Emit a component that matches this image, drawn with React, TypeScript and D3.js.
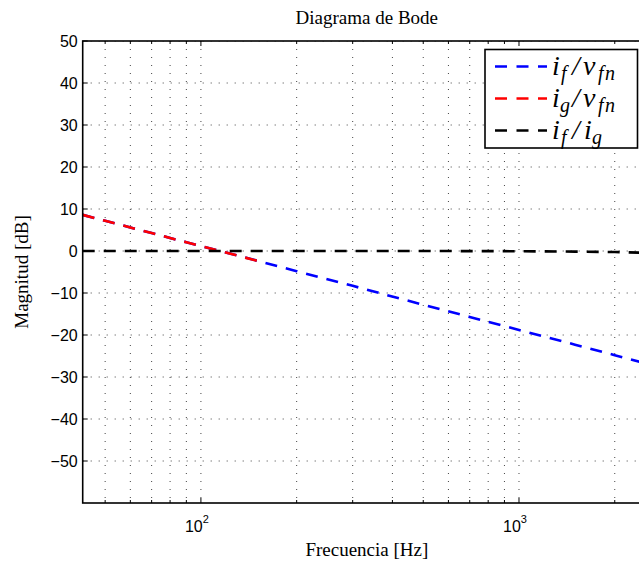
import { useEffect } from "react";
import * as d3 from "d3";

// values (Hz, dB)
const freqIfVfn = [42.5, 50, 60, 70, 80, 90, 100, 150, 200, 300, 500, 700, 1000, 1500, 2000, 2600];
const magIfVfn = [8.6, 7.2, 5.6, 4.3, 3.1, 2.1, 1.2, -2.3, -4.8, -8.3, -12.8, -15.7, -18.8, -22.3, -24.8, -27.1];
const freqIgVfn = [42.5, 50, 60, 70, 80, 90, 100, 155];
const magIgVfn = [8.6, 7.2, 5.6, 4.3, 3.1, 2.1, 1.2, -2.6];
const freqIfIg = [42.5, 100, 500, 1000, 1500, 2000, 2600];
const magIfIg = [0, 0, 0, -0.05, -0.15, -0.25, -0.45];

const yTicks = [50, 40, 30, 20, 10, 0, -10, -20, -30, -40, -50];
const xMajor = [100, 1000];
const xMinor = [50, 60, 70, 80, 90, 200, 300, 400, 500, 600, 700, 800, 900, 2000];

const W = 639, H = 565;
const left = 82.7, right = 651, top = 41, bottom = 503;

const x = d3.scaleLog().domain([42.5, 2600]).range([left, right]);
const y = d3.scaleLinear().domain([-60, 50]).range([bottom, top]);

const toPts = (f: number[], m: number[]) => f.map((v, i) => [v, m[i]] as [number, number]);
const line = d3.line<[number, number]>().x(d => x(d[0])).y(d => y(d[1]));

const series = [
  { pts: toPts(freqIfVfn, magIfVfn), color: "#0000ff" },
  { pts: toPts(freqIgVfn, magIgVfn), color: "#ff0000" },
  { pts: toPts(freqIfIg, magIfIg), color: "#000000" },
];

const serif = "'Liberation Serif', 'Times New Roman', serif";
const sans = "'Liberation Sans', Arial, sans-serif";
const dash = "12 9";

// legend labels as glyph runs: [text, subscript?, offset from legend text start]
const legendItems = [
  { color: "#0000ff", parts: [["i", 0, 0], ["f", 1, 9], ["/", 0, 20], ["v", 0, 31], ["fn", 1, 46]] },
  { color: "#ff0000", parts: [["i", 0, 0], ["g", 1, 8], ["/", 0, 20], ["v", 0, 31], ["fn", 1, 46]] },
  { color: "#000000", parts: [["i", 0, 0], ["f", 1, 9], ["/", 0, 20], ["i", 0, 32], ["g", 1, 40]] },
];

const App = () => {
  useEffect(() => {
    document.body.style.margin = "0";
  }, []);

  const gridStyle = { stroke: "#444", strokeWidth: 1, strokeDasharray: "1 7" };

  return (
    <svg width={W} height={H} style={{ display: "block", background: "#fff" }}>
      <defs>
        <clipPath id="plot">
          <rect x={left} y={top} width={right - left} height={bottom - top} />
        </clipPath>
      </defs>

      {/* grid */}
      <g clipPath="url(#plot)">
        {yTicks.map(t => (
          <line key={"gy" + t} x1={left} x2={right} y1={y(t)} y2={y(t)} {...gridStyle} />
        ))}
        {[...xMajor, ...xMinor].map(t => (
          <line key={"gx" + t} x1={x(t)} x2={x(t)} y1={top} y2={bottom} {...gridStyle} />
        ))}
      </g>

      {/* ticks */}
      <g stroke="#000" strokeWidth={1}>
        {yTicks.map(t => (
          <line key={"ty" + t} x1={left} x2={left + 5} y1={y(t)} y2={y(t)} />
        ))}
        {xMajor.map(t => (
          <g key={"tM" + t}>
            <line x1={x(t)} x2={x(t)} y1={bottom} y2={bottom - 5} />
            <line x1={x(t)} x2={x(t)} y1={top} y2={top + 5} />
          </g>
        ))}
        {xMinor.map(t => (
          <g key={"tm" + t}>
            <line x1={x(t)} x2={x(t)} y1={bottom} y2={bottom - 3} />
            <line x1={x(t)} x2={x(t)} y1={top} y2={top + 3} />
          </g>
        ))}
      </g>

      {/* data */}
      <g clipPath="url(#plot)" fill="none">
        {series.map((s, i) => (
          <path key={i} d={line(s.pts) || ""} stroke={s.color} strokeWidth={2.6} strokeDasharray={dash} />
        ))}
      </g>

      {/* axes box */}
      <rect x={left} y={top} width={right - left} height={bottom - top} fill="none" stroke="#000" strokeWidth={1.6} />

      {/* tick labels */}
      <g fontFamily={sans} fontSize={16} fill="#000">
        {yTicks.map(t => (
          <text key={"ly" + t} x={left - 5} y={y(t)} dy="0.36em" textAnchor="end">
            {t < 0 ? "\u2212" + Math.abs(t) : t}
          </text>
        ))}
        {xMajor.map(t => (
          <text key={"lx" + t} x={x(t) - 4} y={bottom + 29} textAnchor="middle">
            10
            <tspan fontSize={11} dy={-9}>{Math.round(Math.log10(t))}</tspan>
          </text>
        ))}
      </g>

      {/* titles */}
      <text x={(left + right) / 2} y={24} textAnchor="middle" fontFamily={serif} fontSize={19}>
        Diagrama de Bode
      </text>
      <text x={(left + right) / 2} y={556} textAnchor="middle" fontFamily={serif} fontSize={19}>
        Frecuencia [Hz]
      </text>
      <text transform={`translate(28,${(top + bottom) / 2}) rotate(-90)`} textAnchor="middle" fontFamily={serif} fontSize={19}>
        Magnitud [dB]
      </text>

      {/* legend */}
      <g>
        <rect x={485} y={49.5} width={152.5} height={98.5} fill="#fff" stroke="#000" strokeWidth={1.6} />
        {legendItems.map((it, i) => {
          const ly = 66.5 + i * 32;
          return (
            <g key={"lg" + i}>
              <line x1={495} x2={547} y1={ly} y2={ly} stroke={it.color} strokeWidth={2.6} strokeDasharray="12 9.5" />
              {it.parts.map(([t, sub, off], j) => (
                <text
                  key={j}
                  x={552 + (off as number)}
                  y={ly + (sub ? 13 : 8)}
                  fontFamily={serif}
                  fontStyle="italic"
                  fontSize={sub ? 20 : 28}
                  letterSpacing={sub ? 1.5 : 0}
                >
                  {t}
                </text>
              ))}
            </g>
          );
        })}
      </g>
    </svg>
  );
};

export default App;
